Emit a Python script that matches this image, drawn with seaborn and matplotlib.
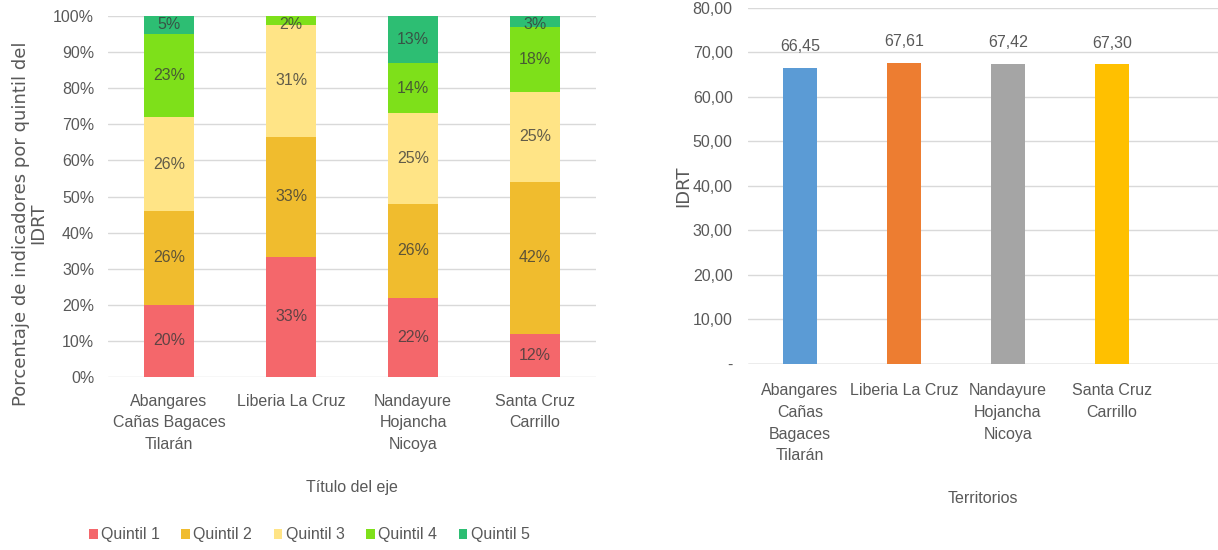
import matplotlib
matplotlib.use('Agg')
import matplotlib.pyplot as plt
from matplotlib.ticker import FuncFormatter, MultipleLocator
from matplotlib.patches import Patch
import seaborn as sns
import numpy as np

# datos
territorios = ['Abangares\nCañas Bagaces\nTilarán', 'Liberia La Cruz',
               'Nandayure\nHojancha\nNicoya', 'Santa Cruz\nCarrillo']
territorios_der = ['Abangares\nCañas\nBagaces\nTilarán', 'Liberia La Cruz',
                   'Nandayure\nHojancha\nNicoya', 'Santa Cruz\nCarrillo']
quintiles = ['Quintil 1', 'Quintil 2', 'Quintil 3', 'Quintil 4', 'Quintil 5']
quintil_1 = [20, 33.3, 22, 12]
quintil_2 = [26, 33.3, 26, 42]
quintil_3 = [26, 31.0, 25, 25]
quintil_4 = [23, 2.4, 14, 18]
quintil_5 = [5, 0, 13, 3]
idrt = [66.45, 67.61, 67.42, 67.30]

colores_q = ['#F4676B', '#F0BC2E', '#FFE486', '#7EE01A', '#2DBE73']
colores_idrt = ['#5B9BD5', '#ED7D31', '#A5A5A5', '#FFC000']

sns.set_theme(style='white')
plt.rcParams['font.family'] = ['Liberation Sans', 'DejaVu Sans']
gris = '#595959'
grid_c = '#D9D9D9'
fs = 11.5

fig = plt.figure(figsize=(12.18, 5.5), dpi=100)
ax1 = fig.add_axes([0.0887, 0.3145, 0.4007, 0.6564])
ax2 = fig.add_axes([0.6141, 0.3382, 0.3859, 0.6473])

# grafico 1: barras apiladas (barras acumuladas superpuestas)
series = np.array([quintil_1, quintil_2, quintil_3, quintil_4, quintil_5])
acumulado = series.cumsum(axis=0)
for i in range(4, -1, -1):
    sns.barplot(x=territorios, y=acumulado[i], color=colores_q[i], width=0.41,
                saturation=1, linewidth=0, ax=ax1, zorder=3)
for i in range(5):
    for j in range(4):
        v = series[i, j]
        if v <= 0:
            continue
        y = acumulado[i, j] - v / 2
        if v < 6:
            y = acumulado[i, j] - 2.3
        ax1.text(j, y, f'{v:.0f}%', ha='center', va='center', fontsize=fs,
                 color='#3a3a3a', alpha=0.8, zorder=4)

ax1.set_ylim(0, 100)
ax1.set_xlim(-0.5, 3.5)
ax1.yaxis.set_major_locator(MultipleLocator(10))
ax1.yaxis.set_major_formatter(FuncFormatter(lambda v, p: f'{v:.0f}%'))
ax1.grid(axis='y', color=grid_c, linewidth=1, zorder=0)
ax1.set_axisbelow(True)
ax1.set_xlabel('Título del eje', fontsize=fs, color=gris, labelpad=20)
ax1.set_ylabel('Porcentaje de indicadores por quintil del\nIDRT', fontsize=13,
               color=gris, family=['DejaVu Sans'], linespacing=0.95)
ax1.yaxis.set_label_coords(-0.125, 0.425)
ax1.tick_params(axis='y', labelsize=fs, colors=gris, length=0, pad=10)
ax1.tick_params(axis='x', labelsize=fs, colors=gris, length=0, pad=12)
for lbl in ax1.get_xticklabels():
    lbl.set_linespacing(1.55)
for s in ax1.spines.values():
    s.set_visible(False)

# grafico 2: IDRT por territorio
sns.barplot(x=territorios_der, y=idrt, hue=territorios_der, palette=colores_idrt,
            width=0.32, saturation=1, linewidth=0, legend=False, ax=ax2, zorder=3)
for j, v in enumerate(idrt):
    ax2.text(j, v + 4.8, f'{v:.2f}'.replace('.', ','), ha='center', va='center',
             fontsize=fs, color=gris)
ax2.set_ylim(0, 80)
ax2.set_xlim(-0.5, 4.02)
ax2.yaxis.set_major_locator(MultipleLocator(10))
ax2.yaxis.set_major_formatter(
    FuncFormatter(lambda v, p: '-' if v == 0 else f'{v:.2f}'.replace('.', ',')))
ax2.grid(axis='y', color=grid_c, linewidth=1, zorder=0)
ax2.set_axisbelow(True)
ax2.set_xlabel('Territorios', fontsize=fs, color=gris, labelpad=20)
ax2.set_ylabel('IDRT', fontsize=13, color=gris, family=['DejaVu Sans'], labelpad=0)
ax2.tick_params(axis='y', labelsize=fs, colors=gris, length=0, pad=11)
ax2.tick_params(axis='x', labelsize=fs, colors=gris, length=0, pad=14)
for lbl in ax2.get_xticklabels():
    lbl.set_linespacing(1.55)
for s in ax2.spines.values():
    s.set_visible(False)
ax2.axhline(0, color='#BFBFBF', linewidth=1, zorder=2)

# leyenda
handles = [Patch(facecolor=c, edgecolor='none') for c in colores_q]
fig.legend(handles, quintiles, loc='center left', bbox_to_anchor=(0.073, 1 - 535 / 550),
           ncol=5, frameon=False, fontsize=fs, handlelength=0.55, handleheight=0.55,
           handletextpad=0.2, columnspacing=1.35, labelcolor=gris,
           borderpad=0, borderaxespad=0)

fig.savefig('out.png', dpi=100)
